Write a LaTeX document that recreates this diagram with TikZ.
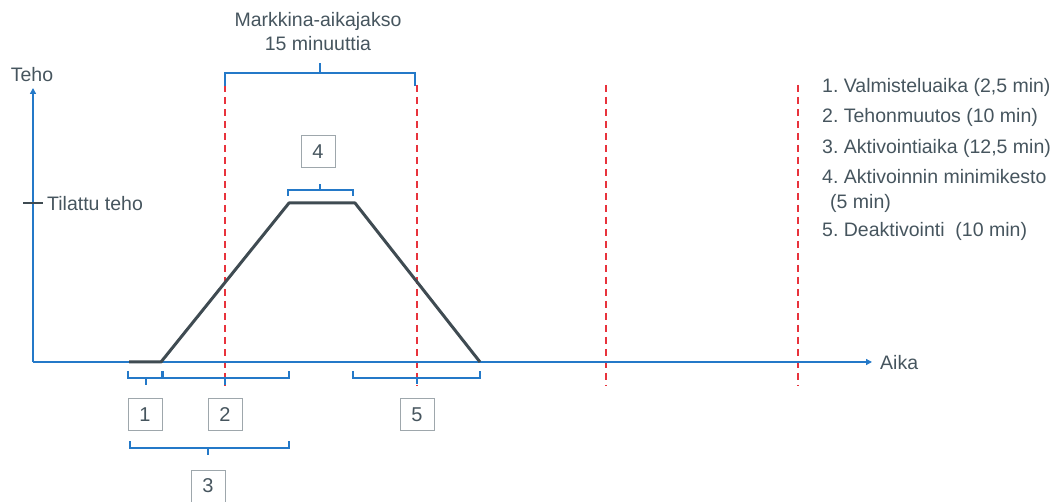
\documentclass[tikz,border=0pt]{standalone}
\usepackage{fontspec}
\setmainfont{Liberation Sans}
\usetikzlibrary{arrows.meta}
\definecolor{txt}{HTML}{46555E}
\definecolor{axblue}{HTML}{2479C8}
\definecolor{dred}{HTML}{E8333C}
\definecolor{curve}{HTML}{3F4B52}
\definecolor{boxgray}{HTML}{9EA7AC}
\frenchspacing
\tikzset{
  lbl/.style={text=txt,font=\fontsize{19.5}{24}\selectfont,inner sep=0pt},
  numbox/.style={draw=boxgray,line width=1pt,text=txt,minimum width=34pt,minimum height=32pt,inner sep=0pt,font=\fontsize{20}{22}\selectfont},
  axis/.style={draw=axblue,line width=1.3pt,-{Triangle[length=6pt,width=6pt]}},
  brace/.style={draw=axblue,line width=1.5pt},
  deadline/.style={draw=dred,line width=1.6pt,dash pattern=on 7pt off 5pt},
  trap/.style={draw=curve,line width=3pt,line join=round}
}
\begin{document}
\begin{tikzpicture}[x=1pt,y=-1pt]
\useasboundingbox (0,0) rectangle (1063,502);
% dashed lines
\foreach \xx/\nm in {225/d1,417/d2,606/d3,798/d4}{
  \coordinate (\nm t) at (\xx,85);
  \coordinate (\nm b) at (\xx,386);
  \draw[deadline] (\nm t) -- (\nm b);
}
% axes
\coordinate (O) at (33,362);
\coordinate (ytop) at (33,88);
\coordinate (xend) at (872,362);
\draw[axis] (O) -- (ytop);
\draw[axis] (O) -- (xend);
\node[lbl] (teho) at (32,75) {Teho};
\node[lbl,anchor=west] (aika) at (880,363) {Aika};
% tick
\coordinate (tk1) at (23,203);
\coordinate (tk2) at (43,203);
\draw[draw=curve,line width=2.5pt] (tk1) -- (tk2);
\node[lbl,anchor=west] (tilattu) at (47,204) {Tilattu teho};
% trapezoid
\coordinate (p0) at (129,362);
\coordinate (p1) at (161,362);
\coordinate (p2) at (289,203);
\coordinate (p3) at (355,203);
\coordinate (p4) at (480,362);
\draw[trap] (p0) -- (p1) -- (p2) -- (p3) -- (p4);
% top bracket
\draw[brace] (225,86) -- (225,73) -- (415,73) -- (415,86);
\draw[brace] (320,73) -- (320,63);
\node[lbl,align=center] (mark) at (318,32) {Markkina-aikajakso\\15 minuuttia};
% bracket 4
\draw[brace] (288,196) -- (288,190) -- (353,190) -- (353,196);
\draw[brace] (320,190) -- (320,184);
\node[numbox] (b4) at (318,152) {4};
% bracket 1
\draw[brace] (128,371) -- (128,378) -- (162,378) -- (162,371);
\draw[brace] (146,378) -- (146,385);
% bracket 2
\draw[brace] (163,371) -- (163,378) -- (289,378) -- (289,371);
\draw[brace] (225,378) -- (225,385);
% bracket 5
\draw[brace] (353,371) -- (353,378) -- (480,378) -- (480,371);
\draw[brace] (417,378) -- (417,384);
% bracket 3
\draw[brace] (130,441) -- (130,448) -- (289,448) -- (289,441);
\draw[brace] (208,448) -- (208,455);
% boxes
\node[numbox] (b1) at (145,415) {1};
\node[numbox] (b2) at (225,415) {2};
\node[numbox] (b5) at (417,415) {5};
\node[numbox] (b3) at (208,486) {3};
% legend
\node[lbl,anchor=west] (l1) at (822,87) {1. Valmisteluaika (2,5 min)};
\node[lbl,anchor=west] (l2) at (822,117) {2. Tehonmuutos (10 min)};
\node[lbl,anchor=west] (l3) at (822,148) {3. Aktivointiaika (12,5 min)};
\node[lbl,anchor=west] (l4) at (822,177) {4. Aktivoinnin minimikesto};
\node[lbl,anchor=west] (l4b) at (830,203) {(5 min)};
\node[lbl,anchor=west] (l5) at (822,231) {5. Deaktivointi\ \ (10 min)};
\end{tikzpicture}
\end{document}
